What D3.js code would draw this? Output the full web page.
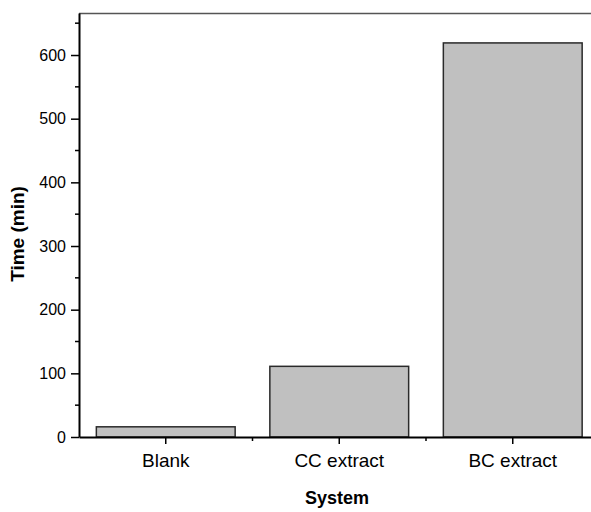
<!DOCTYPE html>
<html><head><meta charset="utf-8">
<script src="https://cdn.jsdelivr.net/npm/d3@7"></script>
<style>body{margin:0;background:#fff}svg{display:block}text{font-family:"Liberation Sans",Arial,sans-serif}</style>
</head><body>
<svg id="c" width="591" height="512"></svg>
<script>
const categories = ["Blank", "CC extract", "BC extract"];
const values = [16, 111, 619];
const yTicks = [0, 100, 200, 300, 400, 500, 600];
const yMinorTicks = [50, 150, 250, 350, 450, 550, 650];
const xTitle = "System";
const yTitle = "Time (min)";

const svg = d3.select("#c");
const mLeft = 79, mRight = 599.5, mTop = 13, mBottom = 437;

const x = d3.scaleBand().domain(categories).range([mLeft, mRight]).paddingInner(0.2).paddingOuter(0.1);
const y = d3.scaleLinear().domain([0, 666]).range([mBottom, mTop]);

// top frame line
svg.append("line").attr("x1", mLeft).attr("x2", 591).attr("y1", mTop + 0.5).attr("y2", mTop + 0.5)
  .attr("stroke", "#555").attr("stroke-width", 1.5);

// bars
svg.selectAll("rect.bar").data(categories).enter().append("rect")
  .attr("x", d => x(d)).attr("width", x.bandwidth())
  .attr("y", (d, i) => y(values[i])).attr("height", (d, i) => y(0) - y(values[i]))
  .attr("fill", "#c0c0c0").attr("stroke", "#2a2a2a").attr("stroke-width", 1.5);

// y axis
const yAxis = svg.append("g").attr("transform", `translate(${mLeft},0)`)
  .call(d3.axisLeft(y).tickValues(yTicks).tickSize(8).tickPadding(5).tickSizeOuter(0));
yAxis.select(".domain").attr("stroke", "#000").attr("stroke-width", 2);
yAxis.selectAll(".tick line").attr("stroke-width", 1.5);
yAxis.selectAll("text").attr("font-size", 16).attr("fill", "#000");
svg.append("g").attr("transform", `translate(${mLeft},0)`)
  .selectAll("line").data(yMinorTicks).enter().append("line")
  .attr("x1", -4).attr("x2", 0).attr("y1", d => y(d)).attr("y2", d => y(d))
  .attr("stroke", "#000").attr("stroke-width", 1.5);

// x axis
const xAxis = svg.append("g").attr("transform", `translate(0,${mBottom})`)
  .call(d3.axisBottom(x).tickSize(7).tickPadding(10).tickSizeOuter(0));
xAxis.select(".domain").attr("stroke", "#000").attr("stroke-width", 2);
xAxis.selectAll(".tick line").attr("stroke-width", 1.5);
xAxis.selectAll("text").attr("font-size", 19).attr("fill", "#000");
const step = x.step();
const minorX = categories.map(c => x(c) + x.bandwidth() / 2 + step / 2).slice(0, -1);
svg.append("g").attr("transform", `translate(0,${mBottom})`)
  .selectAll("line").data(minorX).enter().append("line")
  .attr("x1", d => d).attr("x2", d => d).attr("y1", 0).attr("y2", 4)
  .attr("stroke", "#000").attr("stroke-width", 1.5);

// titles
svg.append("text").attr("x", 337).attr("y", 504).attr("text-anchor", "middle")
  .attr("font-size", 18).attr("font-weight", "bold").text(xTitle);
svg.append("text").attr("transform", "translate(24,234) rotate(-90)").attr("text-anchor", "middle")
  .attr("font-size", 19).attr("font-weight", "bold").text(yTitle);
</script>
</body></html>
